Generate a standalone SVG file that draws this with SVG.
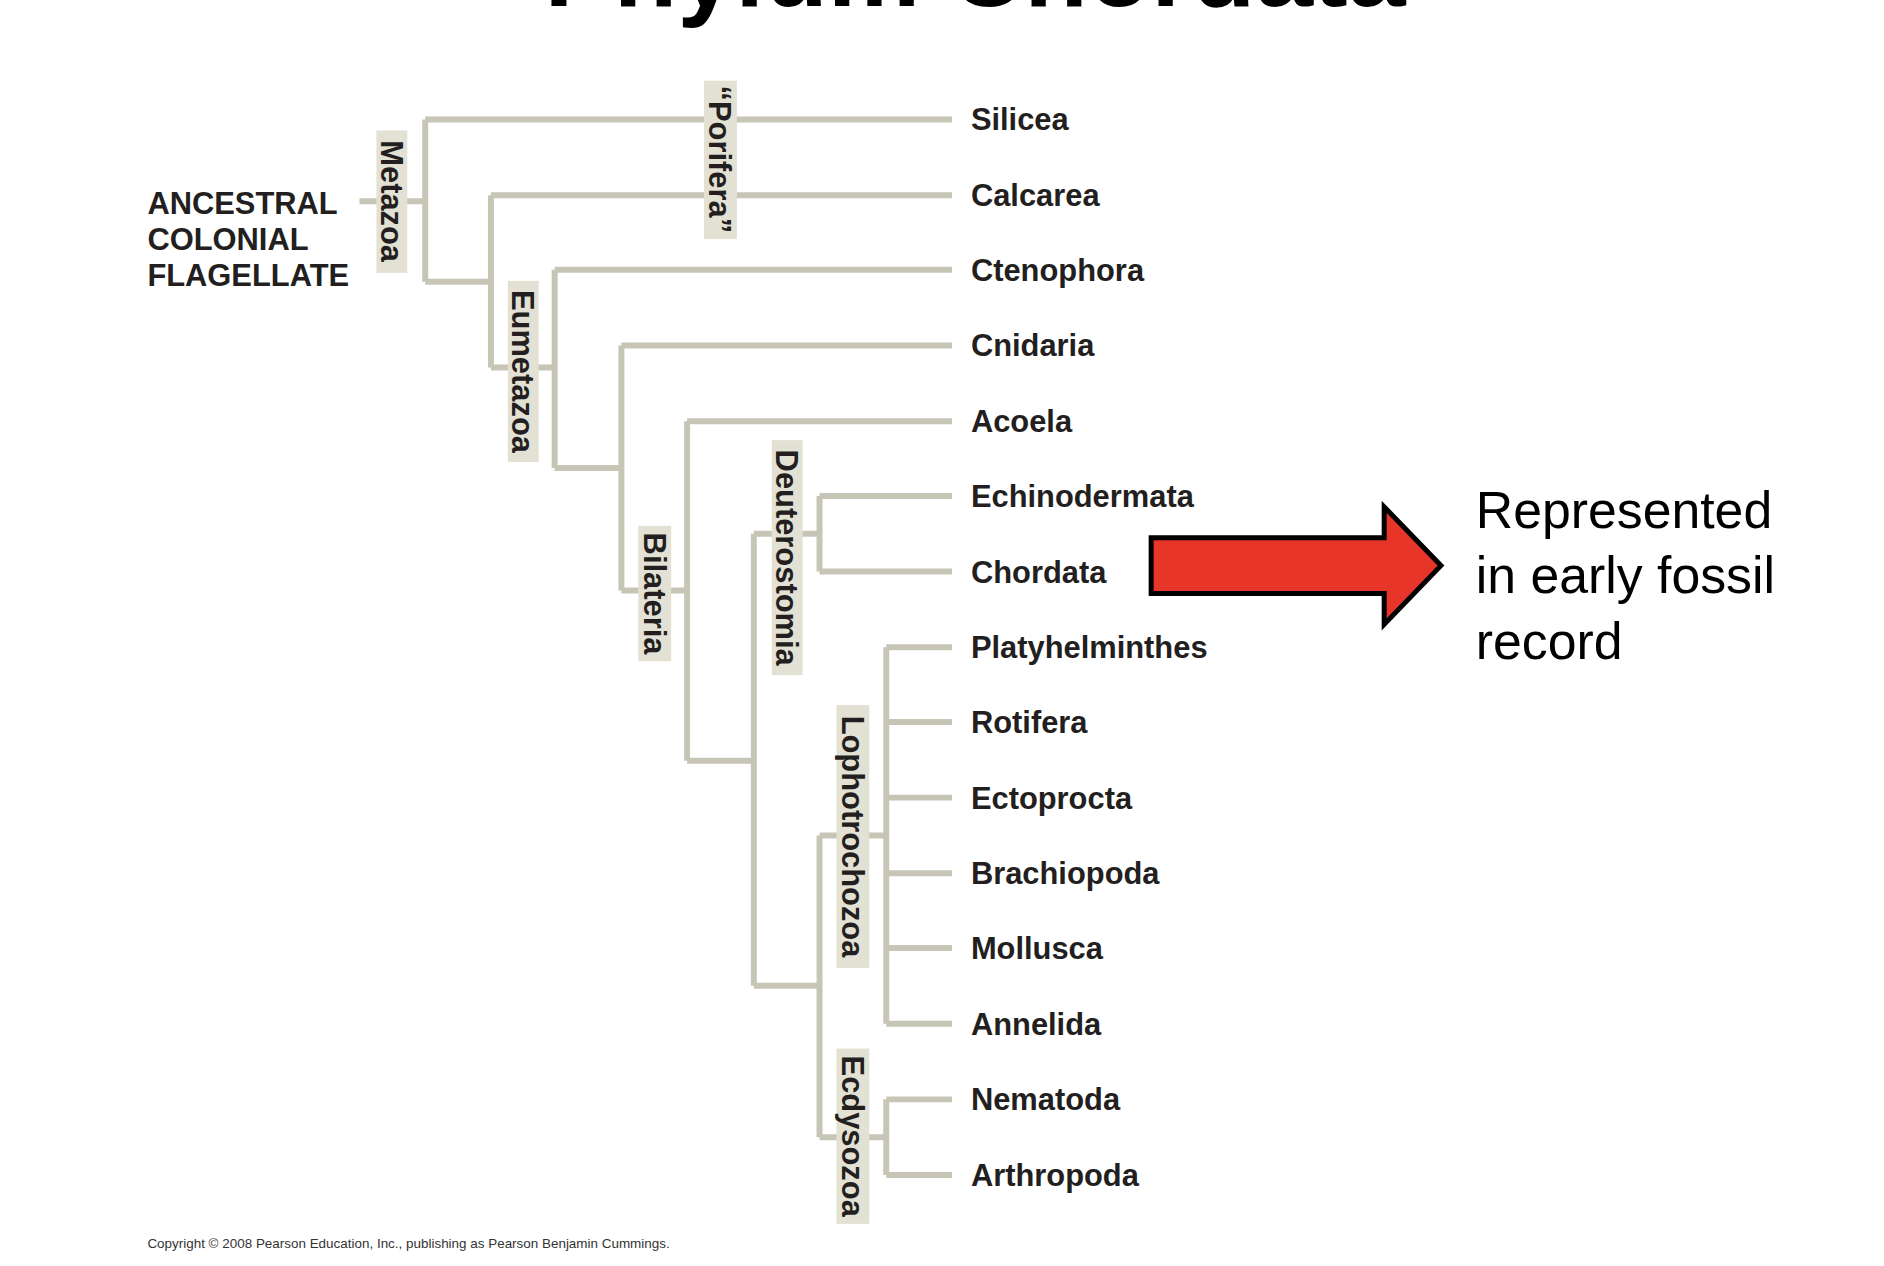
<svg xmlns="http://www.w3.org/2000/svg" width="1884" height="1266" viewBox="0 0 1884 1266">
<style>
.ln{fill:none;stroke:#c6c5b6;stroke-width:6;stroke-linejoin:round;stroke-linecap:butt}
.tip{font-family:"Liberation Sans",Arial,sans-serif;font-weight:bold;font-size:31px;fill:#231f20}
.lb{fill:#e3e1d4}
.lt{font-family:"Liberation Sans",Arial,sans-serif;font-weight:bold;font-size:31px;fill:#231f20;text-anchor:middle}
</style>
<rect width="1884" height="1266" fill="#fff"/>
<text x="975" y="6" font-family="Liberation Sans,Arial,sans-serif" font-weight="bold" font-size="104" text-anchor="middle" fill="#000">Phylum Chordata</text>
<g transform="scale(0.9958)">
<g id="connectors">
<path class="ln" d="M361 202H427M427 120V283M427 120H956M427 283H493M493 196V369M493 196H956M493 369H557M557 271V470M557 271H956M557 470H624M624 347V593M624 347H956M624 593H690M690 423V764M690 423H956M690 764H757M757 536V990M757 536H823M823 498V574M823 498H956M823 574H956M757 990H823M823 839V1142M823 839H890M890 650V1028M890 650H956M890 725H956M890 801H956M890 877H956M890 952H956M890 1028H956M823 1142H890M890 1104V1180M890 1104H956M890 1180H956"/>
</g>
<g id="root"><text class="tip" x="148" y="215">ANCESTRAL</text><text class="tip" x="148" y="251">COLONIAL</text><text class="tip" x="148" y="287">FLAGELLATE</text></g>
<g id="metazoa"><rect class="lb" x="378" y="131" width="31" height="143"/><text class="lt" transform="translate(393.5,202) rotate(90)" y="11">Metazoa</text></g>
<g id="porifera"><rect class="lb" x="707" y="81" width="33" height="159"/><text class="lt" transform="translate(723.5,160) rotate(90)" y="11">“Porifera”</text></g>
<g id="eumetazoa"><rect class="lb" x="510" y="282" width="31" height="182"/><text class="lt" transform="translate(525.5,373) rotate(90)" y="11">Eumetazoa</text></g>
<g id="bilateria"><rect class="lb" x="641" y="528" width="33" height="136"/><text class="lt" transform="translate(657.5,596) rotate(90)" y="11">Bilateria</text></g>
<g id="deuterostomia"><rect class="lb" x="775" y="442" width="31" height="236"/><text class="lt" transform="translate(790.5,560) rotate(90)" y="11">Deuterostomia</text></g>
<g id="lophotrochozoa"><rect class="lb" x="840" y="708" width="33" height="264"/><text class="lt" transform="translate(856.5,840) rotate(90)" y="11">Lophotrochozoa</text></g>
<g id="ecdysozoa"><rect class="lb" x="840" y="1053" width="33" height="176"/><text class="lt" transform="translate(856.5,1141) rotate(90)" y="11">Ecdysozoa</text></g>
<g id="taxa">
<text class="tip" x="975" y="131">Silicea</text>
<text class="tip" x="975" y="207">Calcarea</text>
<text class="tip" x="975" y="282">Ctenophora</text>
<text class="tip" x="975" y="358">Cnidaria</text>
<text class="tip" x="975" y="434">Acoela</text>
<text class="tip" x="975" y="509">Echinodermata</text>
<text class="tip" x="975" y="585">Chordata</text>
<text class="tip" x="975" y="661">Platyhelminthes</text>
<text class="tip" x="975" y="736">Rotifera</text>
<text class="tip" x="975" y="812">Ectoprocta</text>
<text class="tip" x="975" y="888">Brachiopoda</text>
<text class="tip" x="975" y="963">Mollusca</text>
<text class="tip" x="975" y="1039">Annelida</text>
<text class="tip" x="975" y="1115">Nematoda</text>
<text class="tip" x="975" y="1191">Arthropoda</text>
</g>
<g id="arrow"><path d="M1156 540H1390V509L1447 568L1390 627V596H1156Z" fill="#e8352a" stroke="#000" stroke-width="5"/></g>
<g id="note" font-family="Liberation Sans,Arial,sans-serif" font-size="52" fill="#000">
<text x="1482" y="530">Represented</text><text x="1482" y="596">in early fossil</text><text x="1482" y="662">record</text></g>
<text x="148" y="1253" font-family="Liberation Sans,Arial,sans-serif" font-size="13.5" fill="#333">Copyright © 2008 Pearson Education, Inc., publishing as Pearson Benjamin Cummings.</text>
</g>
</svg>
